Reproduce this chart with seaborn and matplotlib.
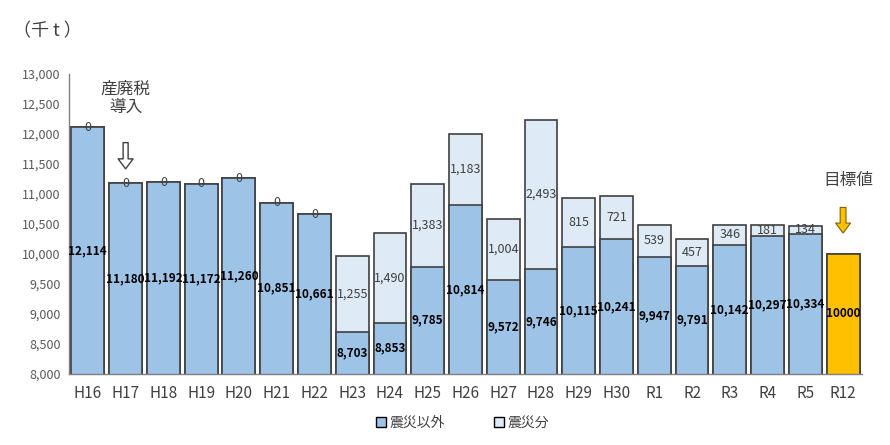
import numpy as np
import pandas as pd
import matplotlib
matplotlib.use("Agg")
import matplotlib.pyplot as plt
from matplotlib.patches import Patch
import seaborn as sns

# data (千t)
years = ["H16", "H17", "H18", "H19", "H20", "H21", "H22", "H23", "H24", "H25",
         "H26", "H27", "H28", "H29", "H30", "R1", "R2", "R3", "R4", "R5", "R12"]
base = [12114, 11180, 11192, 11172, 11260, 10851, 10661, 8703, 8853, 9785,
        10814, 9572, 9746, 10115, 10241, 9947, 9791, 10142, 10297, 10334, 10000]
quake = [0, 0, 0, 0, 0, 0, 0, 1255, 1490, 1383,
         1183, 1004, 2493, 815, 721, 539, 457, 346, 181, 134, 0]

sns.set_theme(style="white")
plt.rcParams['font.family'] = ['Noto Sans CJK JP', 'DejaVu Sans']

df = pd.DataFrame({"year": years, "base": base, "quake": quake})
df["total"] = df["base"] + df["quake"]

c_base = "#9DC3E6"
c_quake = "#DEEBF7"
c_target = "#FFC000"
edge = "#404040"

fig = plt.figure(figsize=(8.9, 4.45), dpi=100)
ax = fig.add_axes([0.0775, 0.16, 0.891, 0.674])

# top segment (震災分) drawn as full totals, base drawn over it
sns.barplot(data=df, x="year", y="total", color=c_quake, width=0.87, saturation=1,
            edgecolor=edge, linewidth=1.2, ax=ax)
pal = [c_base] * (len(years) - 1) + [c_target]
sns.barplot(data=df, x="year", y="base", hue="year", palette=pal, legend=False,
            saturation=1, width=0.87, edgecolor=edge, linewidth=1.2, ax=ax)

ymin, ymax = 8000, 13000
ax.set_ylim(ymin, ymax)
ax.set_xlim(-0.5, len(years) - 0.5)
ax.set_yticks(np.arange(ymin, ymax + 1, 500))
ax.set_yticklabels([f"{v:,}" for v in np.arange(ymin, ymax + 1, 500)])
ax.tick_params(axis="y", labelsize=9, labelcolor="#595959", length=0, pad=6)
ax.tick_params(axis="x", labelsize=11, labelcolor="#404040", length=0, pad=8)
ax.set_xlabel("")
ax.set_ylabel("")
for s in ["top", "right"]:
    ax.spines[s].set_visible(False)
for s in ["left", "bottom"]:
    ax.spines[s].set_color("#808080")
    ax.spines[s].set_linewidth(1)

# value labels
for i, row in df.iterrows():
    ybase = (ymin + row["base"]) / 2
    txt = str(row["base"]) if row["year"] == "R12" else f"{row['base']:,}"
    ax.text(i, ybase, txt, ha="center", va="center", fontsize=8.5,
            fontweight="bold", color="black")
    if row["year"] != "R12":
        ax.text(i, row["base"] + row["quake"] / 2, f"{row['quake']:,}",
                ha="center", va="center", fontsize=9, color="#404040")

# annotations
ax.text(1, 12600, "産廃税\n導入", ha="center", va="center", fontsize=12,
        color="#404040", linespacing=1.1)
ax.annotate("", xy=(1, 11370), xytext=(1, 11900),
            arrowprops=dict(arrowstyle="simple,head_width=0.9,head_length=0.6,tail_width=0.3",
                            fc="white", ec="#404040", lw=1))
ax.text(20.15, 11230, "目標値", ha="center", va="center", fontsize=12,
        color="#404040", clip_on=False)
ax.annotate("", xy=(20, 10300), xytext=(20, 10820),
            arrowprops=dict(arrowstyle="simple,head_width=0.9,head_length=0.6,tail_width=0.35",
                            fc=c_target, ec="#806000", lw=0.8))

fig.text(0.015, 0.93, "（千 t ）", fontsize=13, color="#404040", va="center")

handles = [Patch(facecolor=c_base, edgecolor="black", label="震災以外"),
           Patch(facecolor=c_quake, edgecolor="black", label="震災分")]
fig.legend(handles=handles, loc="center", bbox_to_anchor=(0.52, 0.05), ncol=2,
           frameon=False, fontsize=10, handlelength=0.7, handleheight=0.7,
           handletextpad=0.3, columnspacing=3.5, labelcolor="#404040")

fig.savefig("out.png", dpi=100)
